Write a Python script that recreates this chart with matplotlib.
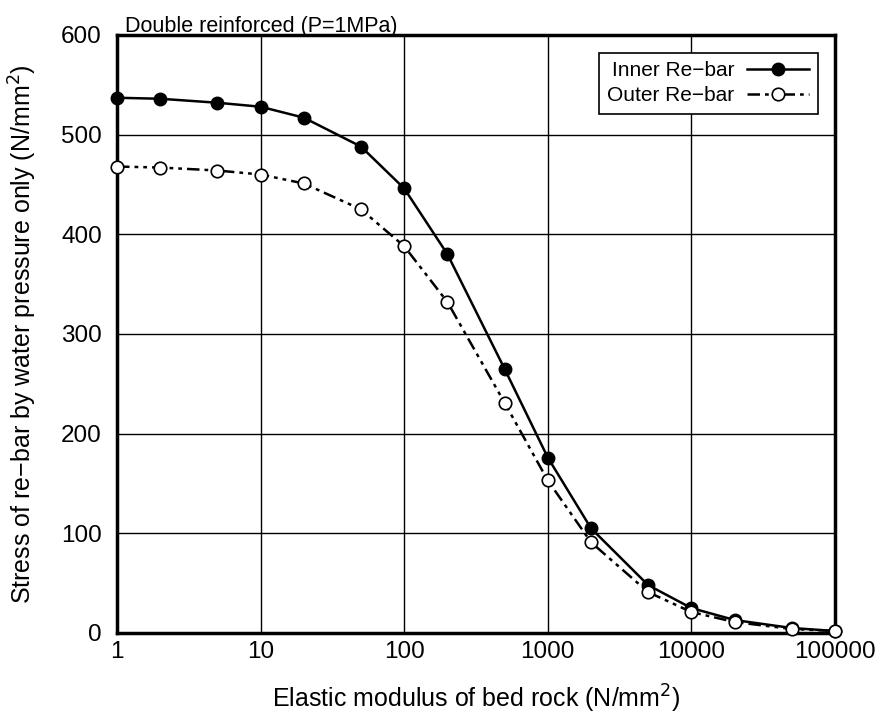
import matplotlib
matplotlib.use("Agg")
import matplotlib.pyplot as plt
from matplotlib.ticker import FixedLocator, FixedFormatter, NullLocator

plt.rcParams['font.family'] = ['Liberation Sans', 'DejaVu Sans']

modulus = [1, 2, 5, 10, 20, 50, 100, 200, 500, 1000, 2000, 5000, 10000, 20000, 50000, 100000]
inner = [537, 536, 532, 528, 517, 488, 446, 380, 265, 176, 105, 48, 25, 13, 5, 2]
outer = [468, 467, 464, 460, 451, 425, 388, 332, 231, 153, 91, 41, 21, 11, 4, 2]
xticks = [1, 10, 100, 1000, 10000, 100000]
xticklabels = ["1", "10", "100", "1000", "10000", "100000"]
yticks = [0, 100, 200, 300, 400, 500, 600]

fig = plt.figure(figsize=(8.82, 7.18), dpi=100)
ax = fig.add_axes([0.1327, 0.1184, 0.8140, 0.8329])

ax.plot(modulus, inner, color='black', lw=1.8, marker='o', ms=9,
        mfc='black', mec='black', label='Inner Re\u2212bar', zorder=3, clip_on=False)
ax.plot(modulus, outer, color='black', lw=1.8, dashes=(5, 2, 1.5, 2, 1.5, 2), marker='o', ms=9,
        mfc='white', mec='black', mew=1.2, label='Outer Re\u2212bar', zorder=3, clip_on=False)

ax.set_xscale('log')
ax.set_xlim(1, 100000)
ax.set_ylim(0, 600)
ax.xaxis.set_major_locator(FixedLocator(xticks))
ax.xaxis.set_major_formatter(FixedFormatter(xticklabels))
ax.xaxis.set_minor_locator(NullLocator())
ax.set_yticks(yticks)
ax.tick_params(axis='x', length=0, labelsize=17.5, pad=6)
ax.tick_params(axis='y', length=0, labelsize=17.5, pad=11)
ax.grid(True, color='black', lw=1.0)
ax.set_axisbelow(True)
for s in ax.spines.values():
    s.set_linewidth(2.5)

xl = ax.set_xlabel('Elastic modulus of bed rock (N/mm$^2$)', fontsize=18)
ax.xaxis.set_label_coords(0.5, -0.1254)
xl.set_va('baseline')
yl = ax.set_ylabel('Stress of re\u2212bar by water pressure only (N/mm$^2$)', fontsize=18)
ax.yaxis.set_label_coords(-0.1309, 0.5)
yl.set_va('center')

ax.text(0.011, 1.005, 'Double reinforced (P=1MPa)', transform=ax.transAxes,
        fontsize=15.5, ha='left', va='baseline')

leg = ax.legend(loc='upper right', bbox_to_anchor=(0.976, 0.970), borderaxespad=0,
                markerfirst=False,
                fontsize=15, frameon=True, fancybox=False, edgecolor='black',
                framealpha=1, handlelength=3.0, borderpad=0.4, labelspacing=0.3,
                handletextpad=0.6)
leg.get_frame().set_linewidth(1.2)

fig.savefig('out.png', dpi=100)
